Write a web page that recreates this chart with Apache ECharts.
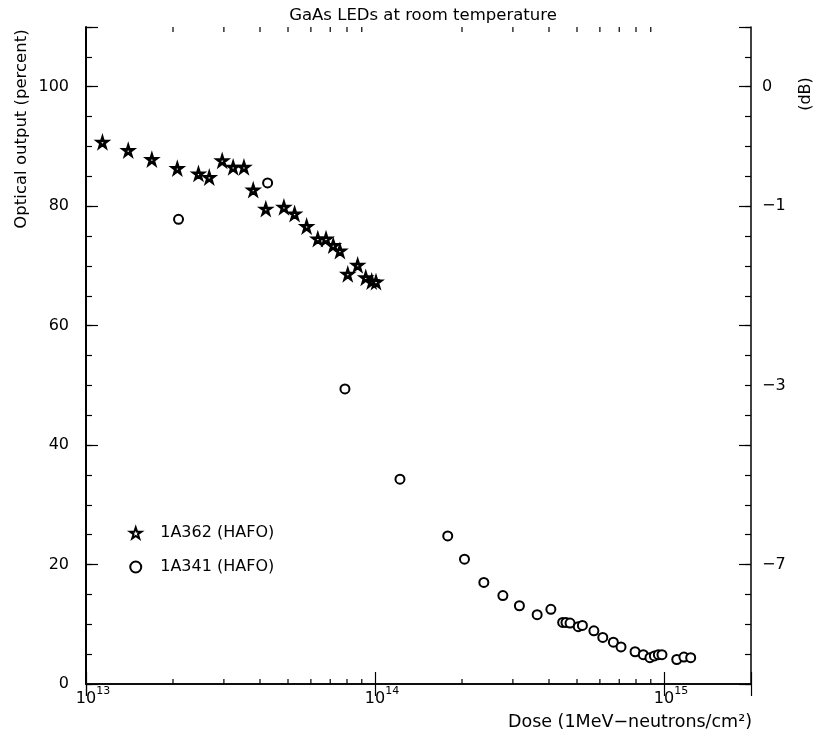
<!DOCTYPE html>
<html>
<head>
<meta charset="utf-8">
<title>GaAs LEDs at room temperature</title>
<script src="https://cdn.jsdelivr.net/npm/echarts@6/dist/echarts.min.js"></script>
<style>
  html, body { margin: 0; padding: 0; background: #fff; }
  #chart { width: 822px; height: 738px; }
</style>
</head>
<body>
<div id="chart"></div>
<script>
// 1A362 (HAFO) - stars
var doseA = [1.14e13, 1.40e13, 1.69e13, 2.07e13, 2.45e13, 2.67e13, 2.96e13, 3.23e13, 3.52e13, 3.79e13,
  4.19e13, 4.84e13, 5.27e13, 5.80e13, 6.34e13, 6.77e13, 7.17e13, 7.56e13, 8.05e13, 8.71e13,
  9.29e13, 9.74e13, 1.008e14];
var outA = [90.7, 89.3, 87.8, 86.3, 85.4, 84.8, 87.6, 86.5, 86.5, 82.7,
  79.5, 79.8, 78.7, 76.6, 74.5, 74.5, 73.4, 72.5, 68.6, 70.1,
  68.0, 67.4, 67.3];

// 1A341 (HAFO) - circles
var doseB = [2.09e13, 4.25e13, 7.87e13, 1.22e14, 1.785e14, 2.04e14, 2.38e14, 2.77e14, 3.16e14, 3.64e14,
  4.06e14, 4.46e14, 4.58e14, 4.73e14, 5.05e14, 5.22e14, 5.72e14, 6.14e14, 6.68e14, 7.10e14,
  7.94e14, 8.48e14, 8.94e14, 9.26e14, 9.56e14, 9.84e14, 1.107e15, 1.172e15, 1.237e15];
var outB = [77.8, 83.9, 49.4, 34.3, 24.8, 20.9, 17.0, 14.8, 13.1, 11.6,
  12.5, 10.3, 10.3, 10.2, 9.6, 9.8, 8.9, 7.8, 7.0, 6.2,
  5.4, 4.9, 4.4, 4.7, 4.9, 4.9, 4.1, 4.5, 4.4];

// minor ticks on the log dose axis
var doseMinorTicks = [2e13, 3e13, 4e13, 5e13, 6e13, 7e13, 8e13, 9e13,
  2e14, 3e14, 4e14, 5e14, 6e14, 7e14, 8e14, 9e14];

// right axis (dB) labels at percent positions
var dbTickPercent = [100, 80, 50, 20];
var dbTickLabels = ['0', '\u22121', '\u22123', '\u22127'];

var ink = '#000';
var font = "'DejaVu Sans', sans-serif";
var starPath = 'path://M50,2 L61,36 L97,36 L68,57 L79,92 L50,71 L21,92 L32,57 L3,36 L39,36 Z';

var chart = echarts.init(document.getElementById('chart'), null, { renderer: 'canvas' });

function pairs(xs, ys) {
  return xs.map(function (x, i) { return [x, ys[i]]; });
}

function expLabel(v) {
  var e = Math.log10(v);
  var r = Math.round(e);
  if (Math.abs(e - r) > 1e-6) return '';
  return '{b|10}{s|' + r + '}';
}

var plainY = {
  type: 'value',
  min: 0,
  max: 110,
  splitLine: { show: false },
  axisLine: { show: false },
  axisLabel: { show: false },
  axisTick: { show: true, inside: true, length: 12, lineStyle: { color: ink, width: 1.2 } },
  interval: 20
};

chart.setOption({
  animation: false,
  textStyle: { fontFamily: font, color: ink },
  title: {
    text: 'GaAs LEDs at room temperature',
    left: 418,
    top: 2,
    textAlign: 'center',
    textStyle: { fontFamily: font, fontSize: 16.5, fontWeight: 'normal', color: ink }
  },
  grid: { left: 86, right: 71, top: 27, bottom: 54 },
  legend: {
    orient: 'vertical',
    left: 124,
    top: 520,
    itemWidth: 39,
    itemHeight: 11,
    itemGap: 18,
    selectedMode: false,
    textStyle: { fontFamily: font, fontSize: 16, color: ink },
    data: ['1A362 (HAFO)', '1A341 (HAFO)']
  },
  graphic: [
    {
      type: 'text',
      x: 22, y: 129,
      rotation: Math.PI / 2,
      style: { text: 'Optical output (percent)', font: '16.5px ' + font, fill: ink, align: 'center', verticalAlign: 'middle' }
    },
    {
      type: 'text',
      x: 806, y: 94,
      rotation: Math.PI / 2,
      style: { text: '(dB)', font: '16px ' + font, fill: ink, align: 'center', verticalAlign: 'middle' }
    },
    {
      type: 'text',
      x: 752, y: 722,
      style: { text: 'Dose (1MeV\u2212neutrons/cm\u00b2)', font: '17.5px ' + font, fill: ink, align: 'right', verticalAlign: 'middle' }
    }
  ],
  xAxis: [
    {
      type: 'log',
      min: 1e13,
      max: 2e15,
      position: 'bottom',
      splitLine: { show: false },
      axisLine: { lineStyle: { color: ink, width: 1.5 } },
      axisTick: { inside: true, length: 12, lineStyle: { color: ink, width: 1.2 } },
      axisLabel: {
        margin: 6,
        color: ink,
        formatter: expLabel,
        rich: {
          b: { fontFamily: font, fontSize: 16, color: ink, lineHeight: 18, padding: [0, 0, 0, 14] },
          s: { fontFamily: font, fontSize: 11, color: ink, lineHeight: 12, padding: [0, 0, 16, 0] }
        }
      }
    },
    {
      type: 'log',
      min: 1e13,
      max: 2e15,
      position: 'top',
      splitLine: { show: false },
      axisLine: { lineStyle: { color: ink, width: 1.5 } },
      axisTick: { inside: true, length: 12, lineStyle: { color: ink, width: 1.2 } },
      axisLabel: { show: false }
    }
  ],
  yAxis: [
    {
      type: 'value',
      min: 0,
      max: 110,
      interval: 5,
      position: 'left',
      splitLine: { show: false },
      axisLine: { show: true, lineStyle: { color: ink, width: 2 } },
      axisTick: { show: true, inside: true, length: 6, lineStyle: { color: ink, width: 1.2 } },
      axisLabel: {
        margin: 17,
        color: ink,
        fontSize: 16,
        fontFamily: font,
        formatter: function (v) { return (v % 20 === 0 && v <= 100) ? String(v) : ''; }
      }
    },
    {
      type: 'value',
      min: 0,
      max: 110,
      interval: 5,
      position: 'right',
      splitLine: { show: false },
      axisLine: { show: true, lineStyle: { color: ink, width: 1.5 } },
      axisTick: { show: true, inside: true, length: 6, lineStyle: { color: ink, width: 1.2 } },
      axisLabel: {
        margin: 11,
        color: ink,
        fontSize: 16,
        fontFamily: font,
        formatter: function (v) {
          var i = dbTickPercent.indexOf(v);
          return i >= 0 ? dbTickLabels[i] : '';
        }
      }
    },
    Object.assign({}, plainY, { position: 'left' }),
    Object.assign({}, plainY, { position: 'right' })
  ],
  series: [
    {
      name: '1A362 (HAFO)',
      type: 'scatter',
      xAxisIndex: 0,
      yAxisIndex: 0,
      symbol: starPath,
      symbolSize: 10,
      itemStyle: { color: '#fff', borderColor: ink, borderWidth: 2.6, opacity: 1 },
      data: pairs(doseA, outA)
    },
    {
      name: '1A341 (HAFO)',
      type: 'scatter',
      xAxisIndex: 0,
      yAxisIndex: 0,
      symbol: 'circle',
      symbolSize: 9,
      itemStyle: { color: '#fff', borderColor: ink, borderWidth: 2, opacity: 1 },
      data: pairs(doseB, outB)
    },
    {
      type: 'custom',
      xAxisIndex: 0,
      yAxisIndex: 0,
      silent: true,
      clip: false,
      renderItem: function (params, api) {
        var x = api.value(0);
        var b = api.coord([x, 0]);
        var t = api.coord([x, 110]);
        var st = { stroke: ink, lineWidth: 1.2 };
        return {
          type: 'group',
          children: [
            { type: 'line', shape: { x1: b[0], y1: b[1], x2: b[0], y2: b[1] - 5 }, style: st },
            { type: 'line', shape: { x1: t[0], y1: t[1], x2: t[0], y2: t[1] + 5 }, style: st }
          ]
        };
      },
      data: doseMinorTicks.map(function (v) { return [v, 0]; })
    }
  ]
});
</script>
</body>
</html>
